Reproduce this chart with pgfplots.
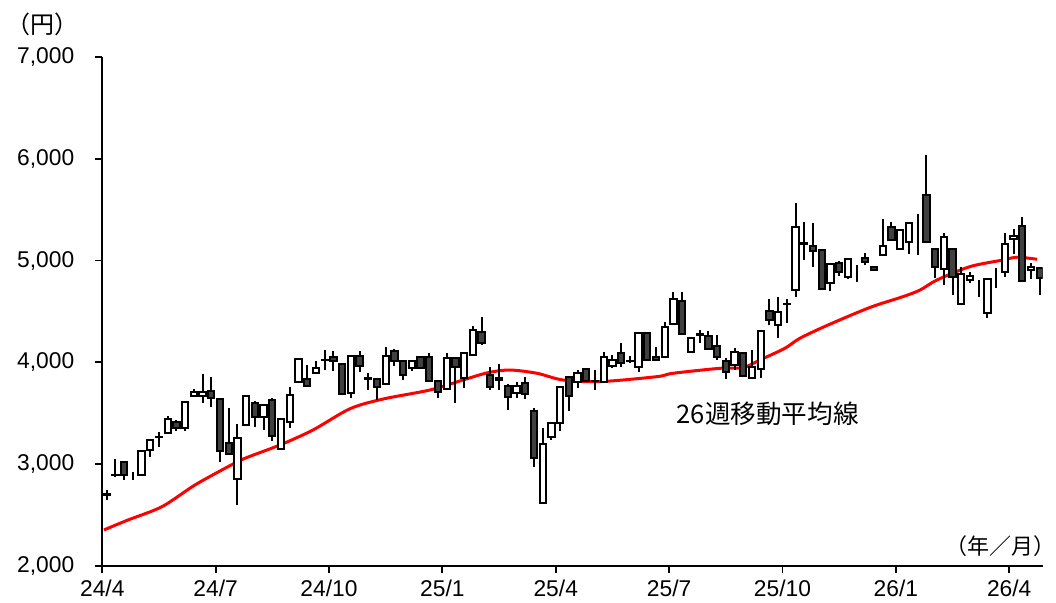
\documentclass[border=0pt]{standalone}
\usepackage{fontspec}
\setmainfont{Liberation Sans}
\newfontfamily\jp{Noto Sans CJK JP}
\usepackage{pgfplots}
\usepackage{pgfplotstable}
\pgfplotsset{compat=1.18}
\definecolor{dark}{RGB}{64,64,64}

% weekly candles: week index, open, high, low, close
\pgfplotstableread{
i o h l c
0 2712 2745 2650 2700
1 2890 3050 2870 2895
2 3025 3030 2845 2895
3 2895 2920 2845 2895
4 2895 3135 2890 3130
5 3140 3245 3075 3240
6 3265 3320 3170 3270
7 3310 3475 3300 3445
8 3418 3430 3330 3360
9 3355 3612 3325 3610
10 3670 3740 3660 3712
11 3665 3890 3605 3705
12 3720 3860 3565 3648
13 3640 3645 3025 3133
14 3205 3550 3095 3100
15 2852 3395 2600 3260
16 3385 3675 3375 3670
17 3605 3620 3370 3468
18 3460 3590 3335 3582
19 3630 3650 3228 3277
20 3146 3445 3140 3441
21 3418 3762 3353 3680
22 3805 4035 3800 4030
23 3837 3975 3765 3771
24 3900 4017 3895 3948
25 4020 4120 3925 4025
26 4050 4110 3920 4015
27 3985 3990 3685 3690
28 3700 4070 3647 4063
29 4060 4110 3910 3962
30 3850 3895 3730 3835
31 3837 3850 3630 3761
32 3788 4148 3785 4060
33 4110 4130 3960 4012
34 4012 4020 3827 3880
35 3946 4015 3920 4012
36 4050 4060 3940 3946
37 4057 4090 3815 3817
38 3817 3820 3647 3713
39 3740 4090 3735 4040
40 4040 4045 3597 3958
41 3845 4100 3745 4090
42 4073 4357 4060 4318
43 4300 4445 4171 4195
44 3876 3958 3729 3761
45 3850 3980 3730 3825
46 3771 3790 3532 3657
47 3696 3811 3647 3771
48 3795 3853 3645 3690
49 3523 3549 2975 3064
50 2622 3353 2610 3198
51 3264 3410 3240 3408
52 3408 3760 3326 3755
53 3853 3860 3526 3670
54 3811 3925 3746 3893
55 3935 3940 3815 3821
56 3820 3925 3729 3815
57 3811 4105 3805 4050
58 3965 4070 3945 4024
59 4096 4194 3958 3998
60 4012 4060 3995 4015
61 3951 4300 3908 4292
62 4292 4295 4010 4024
63 4050 4155 4015 4024
64 4050 4400 4045 4351
65 4377 4689 4370 4623
66 4607 4689 4275 4279
67 4105 4240 4100 4237
68 4280 4318 4187 4270
69 4263 4312 4125 4132
70 4161 4269 4024 4050
71 4014 4040 3834 3903
72 3974 4140 3925 4100
73 4096 4100 3865 3870
74 3844 4122 3840 3951
75 3933 4320 3844 4312
76 4505 4623 4367 4417
77 4367 4646 4237 4492
78 4575 4623 4391 4570
79 4711 5563 4646 5327
80 5170 5383 5006 5160
81 5147 5373 4941 5094
82 5104 5110 4710 4718
83 4784 4970 4705 4967
84 4980 5000 4850 4892
85 4836 5020 4820 5016
86 4915 4957 4793 4915
87 5023 5078 4957 4990
88 4935 4945 4900 4910
89 5055 5413 5045 5143
90 5327 5380 5195 5202
91 5113 5305 5100 5300
92 5186 5380 5065 5373
93 5373 5462 5055 5373
94 5642 6037 5180 5183
95 5113 5125 4826 4935
96 4915 5268 4760 5235
97 5113 5120 4662 4843
98 4574 4941 4565 4866
99 4810 4892 4777 4849
100 4738 4810 4646 4738
101 4489 4830 4433 4817
102 4826 4925 4728 4826
103 4892 5268 4843 5160
104 5209 5307 5065 5243
105 5340 5432 4795 4800
106 4908 4980 4817 4941
107 4925 4935 4662 4826
}\candles

% 26-week moving average
\pgfplotstableread{
x ma
0.19 2354
2.95 2452
6.85 2583
10.63 2796
14.41 2975
16.36 3058
20.38 3189
24.16 3336
28.41 3545
32.19 3640
37.58 3729
41.36 3827
44.23 3899
46.76 3925
49.85 3893
52.83 3827
57.07 3811
63.61 3860
65.44 3893
70.83 3942
73.47 3948
75.42 4024
78.28 4139
80.0 4237
83.22 4367
88.04 4540
91.83 4646
93.78 4711
95.73 4810
99.51 4941
103.3 5006
104.9 5033
107.2 5013
}\mavg

\pgfplotsset{
  base/.style={
    scale only axis, width=470.2pt, height=254.5pt,
    xmin=0, xmax=107.84, ymin=2000, ymax=7000,
    at={(0,0)}, anchor=south west,
  },
  bare/.style={base, hide axis},
}

\begin{document}
\begin{tikzpicture}
\path[use as bounding box] (-51.15pt,-18.5pt) rectangle (476.85pt,283pt);

% axes, ticks and the moving average
\begin{axis}[base,
    axis lines*=left,
    axis line style={line width=0.9pt, -},
    tick align=outside,
    major tick length=3.5pt,
    tick style={black, line width=0.9pt},
    xtick={0,13,26,39,52,65,78,91,104},
    xticklabels={24/4,24/7,24/10,25/1,25/4,25/7,25/10,26/1,26/4},
    ytick={2000,3000,4000,5000,6000,7000},
    ticklabel style={font=\fontsize{11.4}{13}\selectfont},
    yticklabel style={xshift=-7pt},
    /pgf/number format/assume math mode=true,
    /pgf/number format/1000 sep={,},
    clip=false,
  ]
  \addplot[color=red, line width=1.5pt, smooth] table[x=x, y=ma] {\mavg};
  \node[font=\jp\fontsize{12.8}{15}\selectfont] at (axis cs:76.3,3493) {26週移動平均線};
  \node[font=\jp\fontsize{12}{14}\selectfont] at (axis cs:-6.8,7324) {（円）};
  \node[font=\jp\fontsize{11}{13}\selectfont, anchor=east, inner sep=0pt] at (axis cs:109.3,2196) {（年／月）};
\end{axis}

% wicks
\begin{axis}[bare]
  \addplot[draw=none, error bars/.cd, y dir=both, y explicit, error mark=none,
      error bar style={draw=black, line width=1pt}]
    table[x expr=\thisrow{i}+0.5, y=c,
      y error plus expr=\thisrow{h}-\thisrow{c},
      y error minus expr=\thisrow{c}-\thisrow{l}] {\candles};
\end{axis}

% bodies
\begin{axis}[bare, ybar stacked, bar width=0.72]
  \addplot[draw=none, fill=none]
    table[x expr=\thisrow{i}+0.5, y expr={min(\thisrow{o},\thisrow{c})}] {\candles};
  \addplot[draw=black, fill=white, line width=1pt]
    table[x expr=\thisrow{i}+0.5, y expr={max(\thisrow{c}-\thisrow{o},0)}] {\candles};
  \addplot[draw=black, fill=dark, line width=1pt]
    table[x expr=\thisrow{i}+0.5, y expr={max(\thisrow{o}-\thisrow{c},0)}] {\candles};
\end{axis}
\end{tikzpicture}
\end{document}
